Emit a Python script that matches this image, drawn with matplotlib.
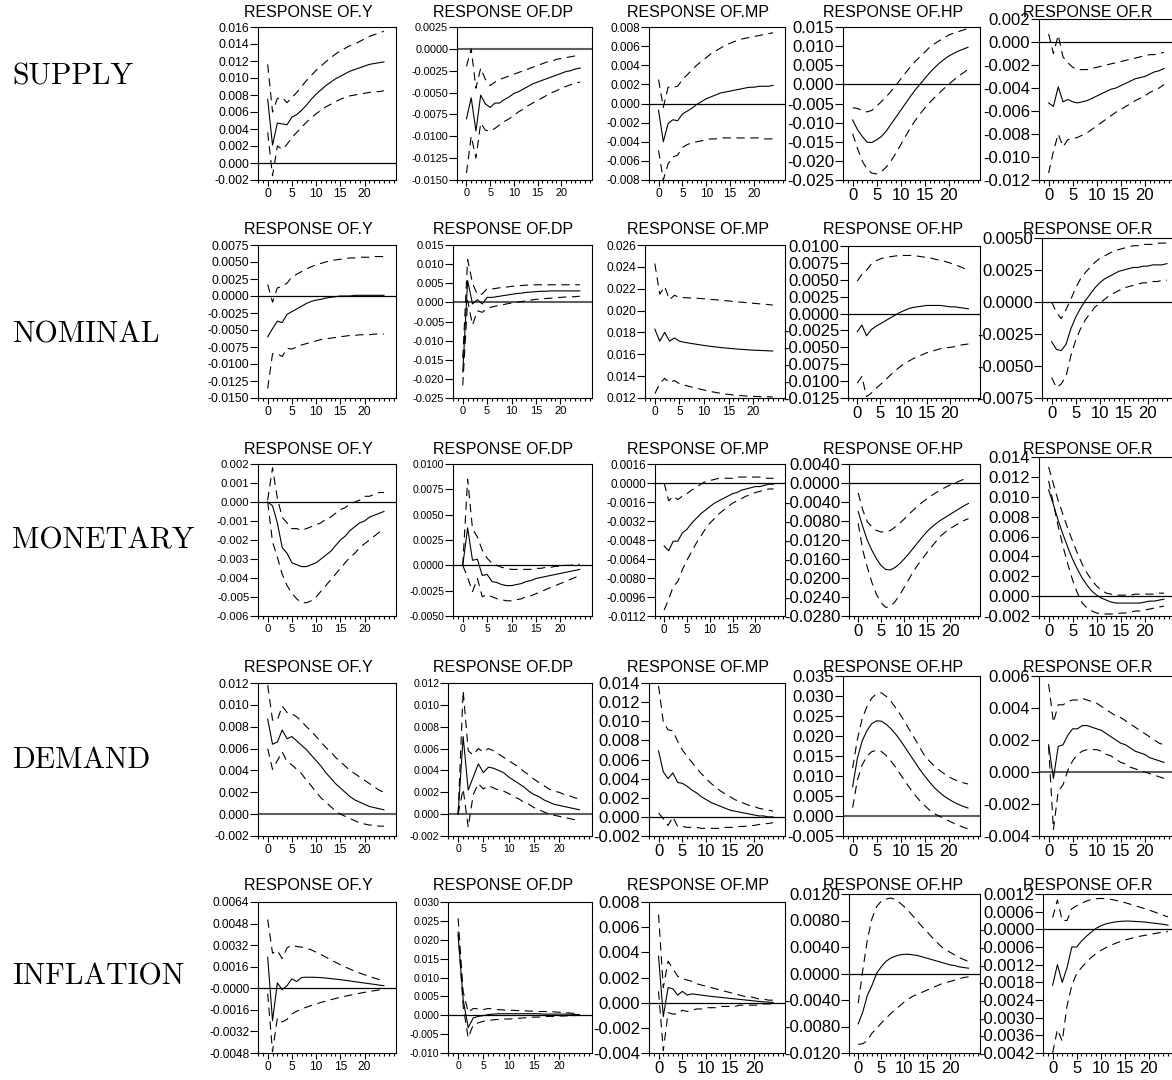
import numpy as np
import matplotlib
matplotlib.use("Agg")
import matplotlib.pyplot as plt
from matplotlib.ticker import FixedLocator, FixedFormatter, MultipleLocator

plt.rcParams["font.family"] = ["Liberation Sans", "DejaVu Sans"]

W, H = 1172, 1080

SHOCKS = ["SUPPLY", "NOMINAL", "MONETARY", "DEMAND", "INFLATION"]
VARIABLES = ["Y", "DP", "MP", "HP", "R"]
HORIZONS = np.arange(25)

# ---- supply shock ----
SUPPLY_Y_MID = [.0075, .0021, .0047, .0046, .0045, .0054, .0057, .0062, .0068, .0075, .0081, .0086, .0091, .0095, .0099, .0102, .0105, .0108, .0110, .0112, .0114, .0116, .0117, .0118, .0119]
SUPPLY_Y_HI = [.0116, .0060, .0076, .0077, .0071, .0077, .0083, .0090, .0097, .0103, .0109, .0114, .0119, .0124, .0128, .0132, .0135, .0138, .0140, .0143, .0146, .0149, .0151, .0153, .0155]
SUPPLY_Y_LO = [.0036, -.0015, .0020, .0016, .0022, .0030, .0036, .0042, .0048, .0053, .0058, .0062, .0066, .0069, .0072, .0075, .0077, .0079, .0080, .0081, .0082, .0083, .0084, .0084, .0085]
SUPPLY_DP_MID = [-.0080, -.0056, -.0094, -.0053, -.0063, -.0067, -.0062, -.0062, -.0058, -.0055, -.0051, -.0049, -.0046, -.0043, -.0040, -.0038, -.0036, -.0034, -.0032, -.0030, -.0028, -.0026, -.0025, -.0023, -.0022]
SUPPLY_DP_HI = [-.0020, .0000, -.0045, -.0022, -.0035, -.0042, -.0038, -.0035, -.0033, -.0031, -.0029, -.0027, -.0025, -.0023, -.0021, -.0019, -.0017, -.0015, -.0014, -.0012, -.0011, -.0010, -.0009, -.0008, -.0007]
SUPPLY_DP_LO = [-.0142, -.0100, -.0125, -.0085, -.0093, -.0094, -.0091, -.0087, -.0083, -.0080, -.0076, -.0072, -.0069, -.0065, -.0062, -.0059, -.0056, -.0053, -.0050, -.0048, -.0045, -.0043, -.0041, -.0039, -.0038]
SUPPLY_MP_MID = [-.0007, -.0040, -.0021, -.0017, -.0018, -.0011, -.0008, -.0005, -.0001, .0002, .0005, .0007, .0009, .0011, .0012, .0013, .0014, .0015, .0016, .0017, .0017, .0018, .0018, .0018, .0019]
SUPPLY_MP_HI = [.0025, -.0004, .0017, .0017, .0018, .0025, .0030, .0035, .0040, .0044, .0048, .0052, .0055, .0058, .0061, .0063, .0065, .0067, .0068, .0069, .0070, .0071, .0072, .0073, .0074]
SUPPLY_MP_LO = [-.0049, -.0080, -.0063, -.0056, -.0054, -.0046, -.0043, -.0041, -.0040, -.0039, -.0038, -.0037, -.0037, -.0036, -.0036, -.0036, -.0036, -.0036, -.0036, -.0036, -.0036, -.0036, -.0037, -.0037, -.0037]
SUPPLY_HP_MID = [-.0093, -.0118, -.0136, -.0151, -.0152, -.0145, -.0136, -.0122, -.0104, -.0086, -.0068, -.0050, -.0032, -.0015, .0000, .0015, .0030, .0043, .0055, .0065, .0074, .0081, .0087, .0092, .0097]
SUPPLY_HP_HI = [-.0061, -.0063, -.0068, -.0072, -.0068, -.0057, -.0045, -.0032, -.0018, -.0003, .0014, .0030, .0045, .0060, .0072, .0084, .0097, .0106, .0114, .0121, .0129, .0134, .0138, .0142, .0146]
SUPPLY_HP_LO = [-.0129, -.0167, -.0200, -.0222, -.0232, -.0234, -.0228, -.0216, -.0200, -.0180, -.0158, -.0136, -.0114, -.0095, -.0078, -.0062, -.0048, -.0035, -.0023, -.0011, .0000, .0011, .0021, .0030, .0039]
SUPPLY_R_MID = [-.0053, -.0056, -.0039, -.0052, -.0050, -.0052, -.0053, -.0052, -.0051, -.0049, -.0047, -.0045, -.0043, -.0041, -.0040, -.0038, -.0036, -.0034, -.0032, -.0031, -.0030, -.0028, -.0026, -.0025, -.0023]
SUPPLY_R_HI = [.0007, -.0010, .0006, -.0013, -.0018, -.0022, -.0024, -.0024, -.0024, -.0023, -.0022, -.0021, -.0020, -.0019, -.0018, -.0017, -.0016, -.0015, -.0014, -.0013, -.0012, -.0011, -.0011, -.0010, -.0009]
SUPPLY_R_LO = [-.0114, -.0095, -.0080, -.0091, -.0085, -.0084, -.0083, -.0081, -.0079, -.0076, -.0073, -.0070, -.0067, -.0064, -.0061, -.0059, -.0056, -.0054, -.0051, -.0049, -.0047, -.0044, -.0042, -.0040, -.0037]

# ---- nominal shock ----
NOMINAL_Y_MID = [-.0060, -.0048, -.0037, -.0039, -.0027, -.0023, -.0019, -.0015, -.0011, -.0008, -.0006, -.0005, -.0003, -.0002, -.0001, .0000, .0000, .0000, .0001, .0001, .0001, .0001, .0001, .0001, .0001]
NOMINAL_Y_HI = [.0017, -.0009, .0012, .0014, .0019, .0028, .0032, .0036, .0040, .0043, .0046, .0048, .0050, .0052, .0053, .0054, .0055, .0056, .0056, .0057, .0057, .0057, .0058, .0058, .0058]
NOMINAL_Y_LO = [-.0136, -.0085, -.0085, -.0089, -.0077, -.0078, -.0075, -.0072, -.0070, -.0068, -.0066, -.0064, -.0063, -.0062, -.0061, -.0060, -.0059, -.0058, -.0058, -.0057, -.0057, -.0057, -.0056, -.0056, -.0056]
NOMINAL_DP_MID = [-.0182, .0057, -.0004, .0007, -.0004, .0013, .0013, .0015, .0017, .0019, .0021, .0023, .0024, .0026, .0027, .0028, .0029, .0029, .0030, .0030, .0030, .0030, .0030, .0030, .0030]
NOMINAL_DP_HI = [-.0146, .0112, .0050, .0020, .0022, .0036, .0035, .0037, .0039, .0040, .0042, .0043, .0044, .0045, .0045, .0046, .0046, .0046, .0046, .0046, .0046, .0046, .0046, .0046, .0046]
NOMINAL_DP_LO = [-.0217, .0005, -.0059, -.0022, -.0026, -.0015, -.0012, -.0009, -.0007, -.0004, -.0002, .0000, .0002, .0004, .0006, .0008, .0009, .0010, .0011, .0012, .0013, .0014, .0014, .0015, .0016]
NOMINAL_MP_MID = [.0183, .0172, .0180, .0172, .0175, .01720, .01710, .01702, .01695, .01688, .01681, .01675, .01669, .01664, .01659, .01655, .01651, .01647, .01644, .01641, .01638, .01636, .01634, .01632, .01630]
NOMINAL_MP_HI = [.0243, .0215, .0222, .0210, .0214, .02120, .02118, .02116, .02114, .02111, .02108, .02104, .02100, .02096, .02092, .02088, .02083, .02079, .02075, .02071, .02067, .02063, .02059, .02055, .02051]
NOMINAL_MP_LO = [.0124, .0133, .0138, .0134, .0136, .01330, .01318, .01306, .01295, .01284, .01273, .01263, .01254, .01246, .01239, .01233, .01228, .01224, .01220, .01217, .01215, .01213, .01212, .01211, .01210]
NOMINAL_HP_MID = [-.0027, -.0017, -.0033, -.0024, -.0019, -.0015, -.0011, -.0007, -.0003, .0001, .0004, .0007, .0009, .0010, .0011, .0012, .0012, .0012, .0012, .0011, .0010, .0010, .0009, .0008, .0007]
NOMINAL_HP_HI = [.0048, .0058, .0064, .0073, .0078, .0081, .0083, .0084, .0085, .0086, .0086, .0086, .0086, .0085, .0084, .0083, .0082, .0080, .0079, .0077, .0075, .0072, .0070, .0067, .0064]
NOMINAL_HP_LO = [-.0103, -.0093, -.0123, -.0118, -.0111, -.0105, -.0099, -.0092, -.0086, -.0080, -.0075, -.0071, -.0067, -.0064, -.0061, -.0058, -.0056, -.0054, -.0052, -.0051, -.0050, -.0049, -.0047, -.0046, -.0045]
NOMINAL_R_MID = [-.0031, -.0037, -.0038, -.0033, -.0021, -.0012, -.0005, .0001, .0006, .0011, .0015, .0018, .0020, .0022, .0024, .0025, .0026, .0027, .0027, .0028, .0028, .0029, .0029, .0029, .0030]
NOMINAL_R_HI = [.0000, -.0008, -.0013, -.0006, .0002, .0011, .0018, .0023, .0027, .0031, .0034, .0036, .0038, .0040, .0041, .0042, .0043, .0044, .0044, .0045, .0045, .0045, .0046, .0046, .0046]
NOMINAL_R_LO = [-.0059, -.0067, -.0064, -.0058, -.0042, -.0030, -.0021, -.0014, -.0009, -.0004, -.0001, .0002, .0005, .0007, .0009, .0011, .0012, .0013, .0014, .0015, .0015, .0016, .0016, .0017, .0017]

# ---- monetary shock ----
MONETARY_Y_MID = [.0000, -.0002, -.0011, -.0024, -.0027, -.0032, -.0033, -.0034, -.0034, -.0033, -.0032, -.0030, -.0028, -.0026, -.0023, -.0020, -.0018, -.0015, -.0013, -.0011, -.0010, -.0008, -.0007, -.0006, -.0005]
MONETARY_Y_HI = [.0001, .0018, .0002, -.0008, -.0011, -.0014, -.0014, -.0015, -.0014, -.0013, -.0012, -.0011, -.0009, -.0008, -.0006, -.0004, -.0003, -.0001, .0000, .0001, .0003, .0003, .0004, .0005, .0005]
MONETARY_Y_LO = [.0000, -.0021, -.0029, -.0038, -.0044, -.0048, -.0051, -.0053, -.0053, -.0052, -.0050, -.0047, -.0044, -.0041, -.0038, -.0035, -.0032, -.0029, -.0027, -.0024, -.0022, -.0020, -.0018, -.0016, -.0014]
MONETARY_DP_MID = [.0000, .0037, .0005, .0006, -.0010, -.0009, -.0016, -.0017, -.0019, -.0020, -.0020, -.0019, -.0018, -.0016, -.0015, -.0013, -.0012, -.0011, -.0010, -.0009, -.0008, -.0007, -.0006, -.0005, -.0004]
MONETARY_DP_HI = [.0000, .0085, .0036, .0028, .0015, .0007, .0002, .0000, -.0002, -.0003, -.0004, -.0004, -.0004, -.0004, -.0004, -.0003, -.0003, -.0002, -.0002, -.0001, -.0001, .0000, .0000, .0001, .0001]
MONETARY_DP_LO = [.0000, -.0012, -.0026, -.0013, -.0031, -.0029, -.0031, -.0033, -.0034, -.0035, -.0035, -.0034, -.0033, -.0031, -.0030, -.0028, -.0026, -.0024, -.0022, -.0020, -.0018, -.0016, -.0014, -.0012, -.0010]
MONETARY_MP_MID = [-.0053, -.0057, -.0049, -.0049, -.0042, -.0039, -.0034, -.0030, -.0026, -.0023, -.0020, -.0017, -.0015, -.0013, -.0011, -.0009, -.0008, -.0006, -.0005, -.0004, -.0003, -.0003, -.0002, -.0001, -.0001]
MONETARY_MP_HI = [.0000, -.0015, -.0011, -.0014, -.0011, -.0009, -.0006, -.0004, -.0001, .0001, .0002, .0003, .0004, .0004, .0004, .0004, .0005, .0005, .0005, .0005, .0005, .0005, .0004, .0004, .0004]
MONETARY_MP_LO = [-.0107, -.0098, -.0087, -.0083, -.0073, -.0065, -.0058, -.0051, -.0045, -.0039, -.0034, -.0030, -.0026, -.0023, -.0020, -.0017, -.0015, -.0013, -.0011, -.0010, -.0008, -.0007, -.0006, -.0005, -.0005]
MONETARY_HP_MID = [-.0060, -.0092, -.0121, -.0142, -.0160, -.0174, -.0182, -.0183, -.0178, -.0170, -.0160, -.0149, -.0137, -.0125, -.0113, -.0102, -.0093, -.0085, -.0078, -.0072, -.0066, -.0060, -.0054, -.0048, -.0043]
MONETARY_HP_HI = [-.0021, -.0057, -.0082, -.0092, -.0100, -.0103, -.0103, -.0100, -.0093, -.0085, -.0076, -.0066, -.0057, -.0048, -.0040, -.0033, -.0026, -.0020, -.0014, -.0009, -.0004, .0000, .0004, .0008, .0011]
MONETARY_HP_LO = [-.0085, -.0142, -.0178, -.0210, -.0235, -.0252, -.0262, -.0260, -.0250, -.0236, -.0220, -.0203, -.0186, -.0172, -.0159, -.0146, -.0134, -.0122, -.0111, -.0103, -.0096, -.0090, -.0084, -.0079, -.0075]
MONETARY_R_MID = [.0107, .0092, .0076, .0062, .0049, .0037, .0027, .0018, .0011, .0005, .0001, -.0002, -.0004, -.0006, -.0007, -.0007, -.0007, -.0007, -.0007, -.0007, -.0006, -.0005, -.0005, -.0004, -.0003]
MONETARY_R_HI = [.0130, .0113, .0096, .0082, .0068, .0055, .0043, .0032, .0023, .0016, .0010, .0006, .0003, .0002, .0001, .0001, .0001, .0001, .0002, .0002, .0002, .0002, .0002, .0003, .0003]
MONETARY_R_LO = [.0116, .0093, .0070, .0050, .0032, .0016, .0003, -.0007, -.0012, -.0015, -.0017, -.0018, -.0018, -.0018, -.0018, -.0017, -.0017, -.0016, -.0015, -.0015, -.0014, -.0013, -.0012, -.0011, -.0010]

# ---- demand shock ----
DEMAND_Y_MID = [.0087, .0064, .0066, .0077, .0069, .0071, .0067, .0063, .0059, .0054, .0049, .0044, .0038, .0033, .0028, .0024, .0020, .0016, .0013, .0011, .0009, .0007, .0006, .0005, .0004]
DEMAND_Y_HI = [.0118, .0086, .0086, .0099, .0093, .0092, .0089, .0085, .0080, .0076, .0071, .0066, .0061, .0057, .0052, .0048, .0044, .0040, .0037, .0034, .0031, .0028, .0025, .0022, .0020]
DEMAND_Y_LO = [.0060, .0041, .0049, .0057, .0048, .0045, .0041, .0037, .0031, .0026, .0020, .0015, .0011, .0007, .0003, .0000, -.0002, -.0004, -.0006, -.0008, -.0009, -.0010, -.0010, -.0011, -.0011]
DEMAND_DP_MID = [.0000, .0071, .0022, .0034, .0046, .0038, .0043, .0042, .0040, .0038, .0034, .0031, .0028, .0025, .0021, .0018, .0016, .0013, .0011, .0009, .0008, .0007, .0006, .0005, .0004]
DEMAND_DP_HI = [.0000, .0113, .0058, .0054, .0060, .0057, .0060, .0058, .0055, .0052, .0049, .0046, .0043, .0039, .0036, .0032, .0029, .0026, .0023, .0021, .0020, .0018, .0017, .0015, .0014]
DEMAND_DP_LO = [.0000, .0023, -.0012, .0018, .0028, .0023, .0026, .0024, .0022, .0021, .0019, .0016, .0014, .0011, .0009, .0006, .0004, .0002, .0000, -.0001, -.0002, -.0003, -.0004, -.0005, -.0005]
DEMAND_MP_MID = [.0069, .0047, .0040, .0046, .0036, .0035, .0032, .0028, .0025, .0021, .0018, .0015, .0013, .0011, .0009, .0007, .0006, .0005, .0004, .0003, .0002, .0001, .0001, .0000, .0000]
DEMAND_MP_HI = [.0137, .0099, .0091, .0090, .0079, .0070, .0063, .0057, .0051, .0045, .0040, .0035, .0031, .0027, .0024, .0021, .0018, .0016, .0014, .0012, .0011, .0009, .0008, .0007, .0006]
DEMAND_MP_LO = [.0004, -.0002, -.0009, .0000, -.0010, -.0010, -.0011, -.0011, -.0011, -.0012, -.0012, -.0012, -.0012, -.0012, -.0011, -.0011, -.0011, -.0010, -.0010, -.0009, -.0009, -.0008, -.0007, -.0007, -.0006]
DEMAND_HP_MID = [.0073, .0145, .0188, .0214, .0231, .0238, .0237, .0229, .0218, .0204, .0188, .0170, .0152, .0134, .0116, .0100, .0085, .0071, .0060, .0050, .0042, .0035, .0029, .0024, .0020]
DEMAND_HP_HI = [.0120, .0192, .0244, .0274, .0295, .0306, .0308, .0299, .0286, .0270, .0252, .0232, .0212, .0192, .0171, .0150, .0137, .0125, .0115, .0106, .0098, .0092, .0087, .0083, .0080]
DEMAND_HP_LO = [.0021, .0090, .0128, .0150, .0161, .0164, .0161, .0151, .0137, .0121, .0103, .0085, .0068, .0052, .0038, .0026, .0015, .0006, .0000, -.0006, -.0012, -.0018, -.0023, -.0028, -.0032]
DEMAND_R_MID = [.0017, -.0004, .0016, .0017, .0023, .0027, .0027, .0029, .0029, .0028, .0027, .0026, .0024, .0022, .0020, .0018, .0017, .0015, .0013, .0012, .0011, .0009, .0008, .0007, .0006]
DEMAND_R_HI = [.0055, .0031, .0042, .0042, .0044, .0045, .0045, .0046, .0045, .0044, .0043, .0041, .0039, .0037, .0035, .0034, .0032, .0030, .0028, .0026, .0024, .0022, .0020, .0018, .0017]
DEMAND_R_LO = [.0016, -.0036, -.0012, -.0008, .0001, .0007, .0011, .0013, .0014, .0014, .0014, .0013, .0011, .0010, .0008, .0006, .0005, .0003, .0002, .0001, .0000, -.0001, -.0002, -.0003, -.0004]

# ---- inflation shock ----
INFLATION_Y_MID = [.0023, -.0024, .0004, -.0001, .0002, .0007, .0005, .00080, .00082, .00082, .00081, .00079, .00076, .00072, .00068, .00064, .00059, .00054, .00049, .00044, .00039, .00034, .00029, .00024, .00019]
INFLATION_Y_HI = [.0051, .0026, .0028, .0022, .0030, .0032, .0031, .00305, .00298, .00285, .00268, .00250, .00231, .00212, .00193, .00175, .00158, .00142, .00127, .00113, .00100, .00088, .00076, .00065, .00055]
INFLATION_Y_LO = [-.0004, -.0047, -.0022, -.0025, -.0023, -.0019, -.0017, -.00153, -.00140, -.00128, -.00116, -.00105, -.00095, -.00085, -.00076, -.00067, -.00059, -.00051, -.00044, -.00037, -.00030, -.00024, -.00018, -.00012, -.00007]
INFLATION_DP_MID = [.0213, .0041, -.0033, -.0007, -.0003, -.0001, .0002, .0003, .0004, .0004, .0004, .0004, .0004, .0004, .0004, .0004, .0004, .0003, .0003, .0003, .0003, .0003, .0003, .0002, .0002]
INFLATION_DP_HI = [.0257, .0063, .0008, .0018, .0017, .0015, .0018, .0016, .0015, .0014, .0013, .0013, .0012, .0012, .0011, .0011, .0010, .0010, .0009, .0009, .0008, .0007, .0006, .0005, .0004]
INFLATION_DP_LO = [.0222, .0024, -.0060, -.0025, -.0020, -.0016, -.0014, -.0012, -.0011, -.0010, -.0010, -.0009, -.0008, -.0007, -.0006, -.0005, -.0005, -.0004, -.0003, -.0003, -.0002, -.0002, -.0001, -.0001, .0000]
INFLATION_MP_MID = [.0037, -.0011, .0012, .0011, .0006, .0009, .0006, .0007, .00065, .00060, .00055, .00050, .00046, .00042, .00038, .00034, .00030, .00026, .00022, .00018, .00014, .00010, .00007, .00004, .00002]
INFLATION_MP_HI = [.0070, .0012, .0033, .0027, .0021, .0019, .0018, .0017, .0015, .0014, .0013, .0012, .0011, .0010, .0009, .0008, .0007, .0006, .0005, .0005, .0004, .0003, .0003, .0002, .0002]
INFLATION_MP_LO = [.0009, -.0038, -.0008, -.0009, -.0009, -.0006, -.0007, -.0006, -.0005, -.0005, -.0004, -.0004, -.0004, -.0003, -.0003, -.0003, -.0003, -.0002, -.0002, -.0002, -.0002, -.0002, -.0001, -.0001, -.0001]
INFLATION_HP_MID = [-.0076, -.0058, -.0033, -.0018, .0000, .0010, .0018, .0023, .0026, .0028, .0029, .0029, .0028, .0027, .0025, .0023, .0021, .0019, .0017, .0015, .0013, .0012, .0010, .0009, .0008]
INFLATION_HP_HI = [-.0045, .0005, .0051, .0083, .0101, .0109, .0112, .0114, .0112, .0107, .0101, .0094, .0086, .0078, .0070, .0063, .0055, .0048, .0041, .0036, .0032, .0028, .0024, .0021, .0018]
INFLATION_HP_LO = [-.0107, -.0106, -.0101, -.0090, -.0083, -.0075, -.0068, -.0061, -.0055, -.0049, -.0043, -.0038, -.0034, -.0031, -.0028, -.0025, -.0022, -.0019, -.0016, -.0014, -.0012, -.0010, -.0008, -.0006, -.0005]
INFLATION_R_MID = [-.0019, -.0012, -.0018, -.0013, -.0006, -.0006, -.0004, -.00024, -.00010, .00003, .00012, .00018, .00022, .00025, .00027, .00028, .00028, .00027, .00026, .00025, .00023, .00021, .00019, .00017, .00014]
INFLATION_R_HI = [.0004, .0010, .0003, .0003, .0007, .0008, .00088, .00096, .00101, .00104, .00105, .00104, .00102, .00099, .00095, .00091, .00086, .00081, .00076, .00071, .00066, .00060, .00054, .00048, .00042]
INFLATION_R_LO = [-.0042, -.0034, -.0038, -.0026, -.0019, -.0015, -.0013, -.00112, -.00096, -.00083, -.00072, -.00063, -.00055, -.00048, -.00042, -.00037, -.00032, -.00028, -.00024, -.00021, -.00018, -.00015, -.00012, -.00010, -.00008]

# y axis: (min, max, step, decimals) per shock row, variable column
Y_AXES = {
    "SUPPLY": [(-0.002, 0.016, 0.002, 3), (-0.015, 0.0025, 0.0025, 4), (-0.008, 0.008, 0.002, 3),
               (-0.025, 0.015, 0.005, 3), (-0.012, 0.002, 0.002, 3)],
    "NOMINAL": [(-0.015, 0.0075, 0.0025, 4), (-0.025, 0.015, 0.005, 3), (0.012, 0.026, 0.002, 3),
                (-0.0125, 0.01, 0.0025, 4), (-0.0075, 0.005, 0.0025, 4)],
    "MONETARY": [(-0.006, 0.002, 0.001, 3), (-0.005, 0.01, 0.0025, 4), (-0.0112, 0.0016, 0.0016, 4),
                 (-0.028, 0.004, 0.004, 4), (-0.002, 0.014, 0.002, 3)],
    "DEMAND": [(-0.002, 0.012, 0.002, 3), (-0.002, 0.012, 0.002, 3), (-0.002, 0.014, 0.002, 3),
               (-0.005, 0.035, 0.005, 3), (-0.004, 0.006, 0.002, 3)],
    "INFLATION": [(-0.0048, 0.0064, 0.0016, 4), (-0.01, 0.03, 0.005, 3), (-0.004, 0.008, 0.002, 3),
                  (-0.012, 0.012, 0.004, 4), (-0.0042, 0.0012, 0.0006, 4)],
}
NEG_ZERO = {("INFLATION", "Y"), ("INFLATION", "R")}
# panels whose zero line is rendered as a soft grey band in the original
GREY_ZERO = {("SUPPLY", "DP"), ("NOMINAL", "DP"), ("DEMAND", "Y"), ("DEMAND", "DP"),
             ("DEMAND", "HP"), ("DEMAND", "R")}

# panel frames in pixels: (left, top, right, bottom)
BOXES = {
    "SUPPLY": [(258, 27, 396, 180), (457, 27, 592, 180), (649, 27, 785, 180), (843, 27, 980, 180), (1039, 19, 1176, 180)],
    "NOMINAL": [(258, 245, 396, 398), (453, 245, 592, 398), (645, 245, 785, 398), (848, 246, 980, 398), (1042, 238, 1179, 398)],
    "MONETARY": [(258, 464, 396, 616), (453, 464, 592, 616), (655, 464, 785, 616), (849, 464, 980, 616), (1039, 457, 1176, 616)],
    "DEMAND": [(258, 683, 396, 836), (448, 683, 592, 836), (649, 683, 785, 836), (843, 676, 980, 836), (1039, 676, 1176, 836)],
    "INFLATION": [(258, 902, 396, 1053), (448, 902, 592, 1053), (649, 902, 785, 1053), (849, 894, 980, 1053), (1043, 894, 1180, 1053)],
}
TICK_SIZE = {
    "SUPPLY": [8.8, 7.8, 8.6, 12, 12],
    "NOMINAL": [8.8, 8.0, 8.6, 12, 12],
    "MONETARY": [8.2, 7.4, 8.4, 12, 12],
    "DEMAND": [8.8, 7.6, 12, 12, 12],
    "INFLATION": [8.6, 7.6, 12, 12, 12],
}
TITLE_X = [308, 503, 698, 893, 1088]
TITLE_Y = {"SUPPLY": 12.5, "NOMINAL": 229, "MONETARY": 449, "DEMAND": 667, "INFLATION": 886}
LABEL_Y = {"SUPPLY": 77, "NOMINAL": 335, "MONETARY": 541, "DEMAND": 760, "INFLATION": 977}

data = globals()

fig = plt.figure(figsize=(W / 100, H / 100), dpi=100)

for shock in SHOCKS:
    fig.text(12 / W, 1 - LABEL_Y[shock] / H, shock, family="cmr10", fontsize=21.6,
             ha="left", va="center")
    for j, var in enumerate(VARIABLES):
        l, t, r, b = BOXES[shock][j]
        ax = fig.add_axes([l / W, 1 - b / H, (r - l) / W, (b - t) / H])
        mid = data[f"{shock}_{var}_MID"]
        lo = data[f"{shock}_{var}_LO"]
        hi = data[f"{shock}_{var}_HI"]

        if (shock, var) in GREY_ZERO:
            ax.axhline(0, color="#5f5f5f", lw=1.5)
        else:
            ax.axhline(0, color="black", lw=0.9)
        ax.plot(HORIZONS, mid, color="black", lw=0.8)
        ax.plot(HORIZONS, hi, color="black", lw=0.8, ls=(0, (7.5, 5)))
        ax.plot(HORIZONS, lo, color="black", lw=0.8, ls=(0, (7.5, 5)))

        ymin, ymax, step, dec = Y_AXES[shock][j]
        n = int(round((ymax - ymin) / step)) + 1
        ticks = np.linspace(ymin, ymax, n)
        labels = []
        for v in ticks:
            if abs(v) < step / 100:
                labels.append(("-" if (shock, var) in NEG_ZERO else "") + f"{0:.{dec}f}")
            else:
                labels.append(f"{v:.{dec}f}")
        ax.set_ylim(ymin, ymax)
        ax.yaxis.set_major_locator(FixedLocator(ticks))
        ax.yaxis.set_major_formatter(FixedFormatter(labels))

        ax.set_xlim(-2, 26.5)
        ax.xaxis.set_major_locator(FixedLocator([0, 5, 10, 15, 20]))
        ax.xaxis.set_minor_locator(MultipleLocator(1))

        fs = TICK_SIZE[shock][j]
        ax.tick_params(axis="y", direction="out", length=5.5, width=0.8, pad=0.8, labelsize=fs)
        ax.tick_params(axis="x", which="major", direction="out", length=4, width=0.8, pad=2, labelsize=fs)
        ax.tick_params(axis="x", which="minor", direction="out", length=2.2, width=0.8)
        for s in ax.spines.values():
            s.set_linewidth(0.8)

        fig.text(TITLE_X[j] / W, 1 - TITLE_Y[shock] / H, f"RESPONSE OF.{var}",
                 fontsize=11.5, ha="center", va="center")

fig.savefig("out.png", dpi=100)
